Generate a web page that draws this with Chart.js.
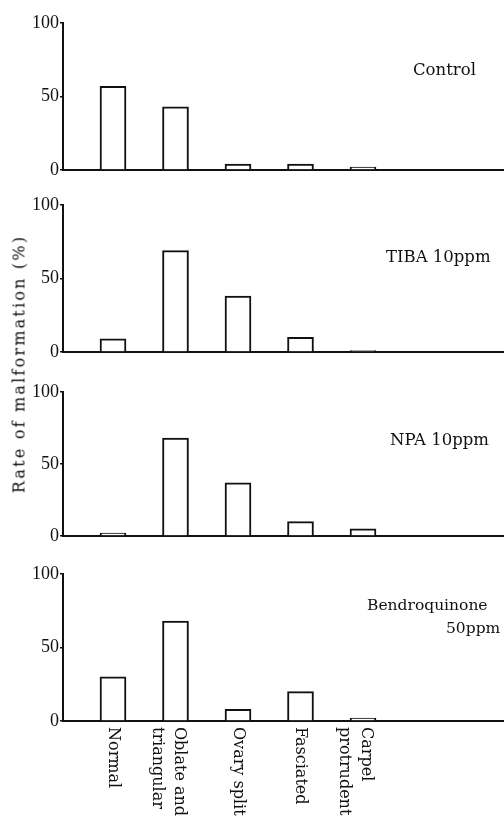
<!DOCTYPE html>
<html>
<head>
<meta charset="utf-8">
<script src="https://cdn.jsdelivr.net/npm/chart.js"></script>
<style>
  body { margin: 0; background: #fff; width: 504px; height: 823px; overflow: hidden; position: relative; }
  canvas { position: absolute; left: 0; }
  #ytitle {
    position: absolute; left: 19px; top: 364px;
    transform: translate(-50%, -50%) rotate(-90deg);
    white-space: nowrap; font-family: "DejaVu Serif", serif; font-size: 16px;
    letter-spacing: 2.2px; color: #111;
  }
</style>
</head>
<body>
<canvas id="c1" width="504" height="188" style="top:0px"></canvas>
<canvas id="c2" width="504" height="184" style="top:188px"></canvas>
<canvas id="c3" width="504" height="183" style="top:372px"></canvas>
<canvas id="c4" width="504" height="268" style="top:555px"></canvas>
<div id="ytitle">Rate of malformation (%)</div>
<script>
// categories (bottom labels, multi-line where the print breaks them)
const categories = [["Normal"], ["Oblate and", "triangular"], ["Ovary split"], ["Fasciated"], ["Carpel", "protrudent"]];

// rate of malformation (%) per treatment
const control = [57, 43, 4, 4, 2];
const tiba = [9, 69, 38, 10, 1];
const npa = [2, 68, 37, 10, 5];
const bendro = [30, 68, 8, 20, 2];

const panelNames = [["Control"], ["TIBA 10ppm"], ["NPA 10ppm"], ["Bendroquinone", "50ppm"]];
const yTicks = [0, 50, 100];

// ---------------------------
// panel label (top right)
// ---------------------------
const panelLabel = {
    id: "panelLabel",
    afterDraw(chart, args, opts) {
        const ctx = chart.ctx;
        ctx.save();
        ctx.fillStyle = "#111";
        ctx.font = opts.size + "px 'DejaVu Serif'";
        ctx.textBaseline = "alphabetic";
        opts.lines.forEach(function (t, i) {
            ctx.fillText(t, opts.pos[i][0], opts.pos[i][1]);
        });
        ctx.restore();
    }
};

// ---------------------------
// rotated category labels
// ---------------------------
const catLabels = {
    id: "catLabels",
    afterDraw(chart, args, opts) {
        if (!opts.show) return;
        const ctx = chart.ctx;
        const xs = chart.scales.x;
        const top = chart.chartArea.bottom + 6;
        ctx.save();
        ctx.fillStyle = "#111";
        ctx.font = "16px 'DejaVu Serif'";
        ctx.textAlign = "left";
        ctx.textBaseline = "middle";
        categories.forEach(function (lines, i) {
            const x = xs.getPixelForValue(i + 1);
            const shift = lines.length > 1 ? 3.5 : 0;
            ctx.save();
            ctx.translate(x + shift, top);
            ctx.rotate(Math.PI / 2);
            lines.forEach(function (t, j) {
                ctx.fillText(t, 0, j * 22);
            });
            ctx.restore();
        });
        ctx.restore();
    }
};

function makePanel(id, values, names, namePos, nameSize, pad, showCats) {
    const ctx = document.getElementById(id);
    return new Chart(ctx, {
        type: "bar",
        data: {
            datasets: [{
                data: values.map(function (v, i) { return { x: i + 1, y: v }; }),
                backgroundColor: "#fff",
                borderColor: "#111",
                borderWidth: 2,
                barThickness: 26
            }]
        },
        options: {
            responsive: false,
            animation: false,
            devicePixelRatio: 1,
            layout: { padding: { top: pad[0], bottom: pad[1], left: 0, right: 0 } },
            plugins: {
                legend: { display: false },
                tooltip: { enabled: false },
                panelLabel: { lines: names, pos: namePos, size: nameSize },
                catLabels: { show: showCats }
            },
            scales: {
                x: {
                    type: "linear",
                    offset: false,
                    min: 0.2,
                    max: 7.256,
                    ticks: { display: false },
                    grid: { display: false, offset: false },
                    border: { display: true, color: "#111", width: 2 },
                    afterFit: function (s) { s.height = 0; }
                },
                y: {
                    min: 0,
                    max: 100,
                    afterBuildTicks: function (s) { s.ticks = yTicks.map(function (v) { return { value: v }; }); },
                    ticks: {
                        color: "#111",
                        padding: 1,
                        font: { family: "Liberation Serif", size: 18 }
                    },
                    grid: { drawOnChartArea: false, drawTicks: true, tickLength: 3, color: "#111", lineWidth: 1.5 },
                    border: { display: true, color: "#111", width: 2 },
                    afterFit: function (s) { s.width = 63; }
                }
            }
        },
        plugins: [panelLabel, catLabels]
    });
}

makePanel("c1", control, panelNames[0], [[413, 75]], 16.5, [23, 18], false);
makePanel("c2", tiba, panelNames[1], [[386, 74]], 16.5, [17, 20], false);
makePanel("c3", npa, panelNames[2], [[390, 73]], 16.5, [20, 19], false);
makePanel("c4", bendro, panelNames[3], [[367, 55], [446, 78]], 15.5, [19, 102], true);
</script>
</body>
</html>
